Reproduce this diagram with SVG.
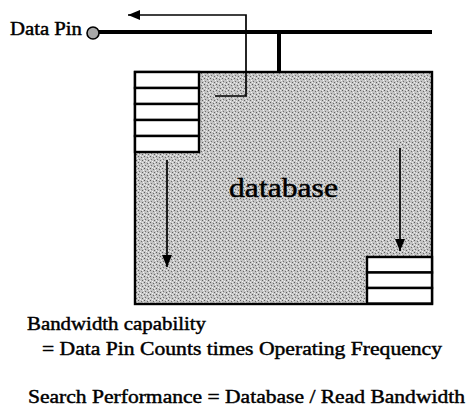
<svg xmlns="http://www.w3.org/2000/svg" width="468" height="409" viewBox="0 0 468 409">
  <defs>
    <!-- stippled grey fill for the memory array -->
    <pattern id="stipple" width="6" height="6" patternUnits="userSpaceOnUse">
      <rect width="6" height="6" fill="#c4c4c4"/>
      <rect x="0" y="0" width="1" height="1" fill="#5a5a5a"/>
      <rect x="3" y="1" width="1" height="1" fill="#6a6a6a"/>
      <rect x="1" y="3" width="1" height="1" fill="#707070"/>
      <rect x="4" y="4" width="1" height="1" fill="#5f5f5f"/>
      <rect x="5" y="2" width="1" height="1" fill="#f4f4f4"/>
      <rect x="2" y="5" width="1" height="1" fill="#f4f4f4"/>
      <rect x="0" y="4" width="1" height="1" fill="#eeeeee"/>
      <rect x="4" y="0" width="1" height="1" fill="#eeeeee"/>
    </pattern>
    <marker id="head" viewBox="0 0 12 10" refX="12" refY="5" markerWidth="12" markerHeight="10" markerUnits="userSpaceOnUse" orient="auto">
      <path d="M0,0 L12,5 L0,10 Z" fill="#000"/>
    </marker>
  </defs>
  <style>
    text { font-family: "Liberation Serif", "Times New Roman", serif; fill: #000; stroke: #000; stroke-width: 0.45; }
    .row { fill: #fff; stroke: #000; stroke-width: 2.4; }
    .flow { fill: none; stroke: #000; stroke-width: 1.7; marker-end: url(#head); }
  </style>

  <rect width="468" height="409" fill="#fff"/>

  <!-- data pin -->
  <g id="data-pin">
    <text x="10" y="35" font-size="18" textLength="72" lengthAdjust="spacingAndGlyphs">Data Pin</text>
    <circle cx="93" cy="33" r="6" fill="#a8a8a8" stroke="#000" stroke-width="1.6"/>
  </g>

  <!-- database array -->
  <g id="database">
    <rect x="135" y="72" width="297" height="232" fill="url(#stipple)" stroke="#000" stroke-width="2.4"/>
    <text x="229" y="197" font-size="28" textLength="109" lengthAdjust="spacingAndGlyphs">database</text>
  </g>

  <!-- read buffer, upper left -->
  <g id="read-buffer">
    <rect class="row" x="135" y="72" width="64" height="16"/>
    <rect class="row" x="135" y="88" width="64" height="16"/>
    <rect class="row" x="135" y="104" width="64" height="16"/>
    <rect class="row" x="135" y="120" width="64" height="16"/>
    <rect class="row" x="135" y="136" width="64" height="16"/>
  </g>

  <!-- buffer, lower right -->
  <g id="lower-buffer">
    <rect class="row" x="367" y="257" width="65" height="15.5"/>
    <rect class="row" x="367" y="272.5" width="65" height="15.5"/>
    <rect class="row" x="367" y="288" width="65" height="15.5"/>
  </g>

  <!-- connectors -->
  <g id="connectors">
    <line x1="99" y1="32" x2="432" y2="32" stroke="#000" stroke-width="4"/>
    <line x1="279" y1="32" x2="279" y2="72" stroke="#000" stroke-width="4"/>
    <path class="flow" d="M215,96 H246 V15 H128"/>
    <line class="flow" x1="167" y1="160" x2="167" y2="267"/>
    <line class="flow" x1="400" y1="148" x2="400" y2="251"/>
  </g>

  <!-- formulas -->
  <g id="notes">
    <text x="27" y="330" font-size="19" textLength="179" lengthAdjust="spacingAndGlyphs">Bandwidth capability</text>
    <text x="42" y="355" font-size="19" textLength="400" lengthAdjust="spacingAndGlyphs">=  Data Pin Counts times Operating Frequency</text>
    <text x="28" y="403" font-size="19" textLength="437" lengthAdjust="spacingAndGlyphs">Search Performance =  Database / Read Bandwidth</text>
  </g>
</svg>
